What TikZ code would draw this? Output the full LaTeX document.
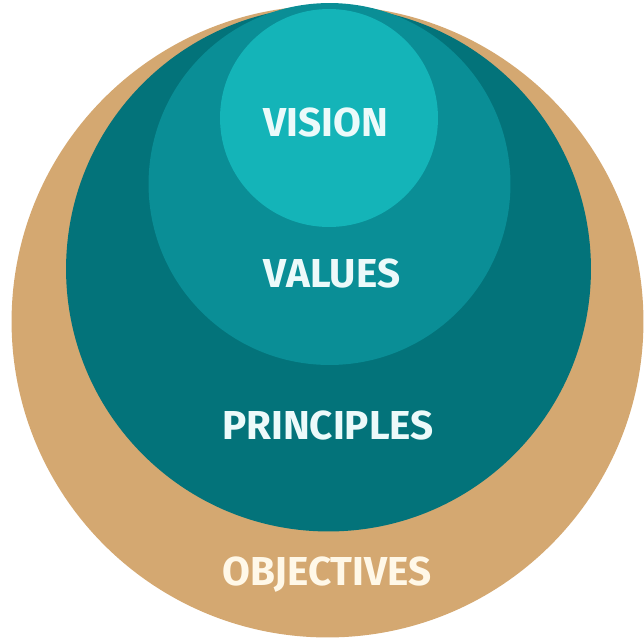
\documentclass[tikz,border=0pt]{standalone}
\usepackage{fontspec}
\setmainfont{Fira Sans}
\usepackage{tikz}

\definecolor{tan}{RGB}{212,168,113}
\definecolor{deepteal}{RGB}{3,115,122}
\definecolor{midteal}{RGB}{10,142,150}
\definecolor{lightteal}{RGB}{20,180,184}
\definecolor{labelwhite}{RGB}{236,250,250}
\definecolor{cream}{RGB}{255,248,232}

\tikzset{
  ring/.style={circle, inner sep=0pt, draw=none},
  word/.style={font=\fontsize{23}{25}\selectfont\bfseries, text=labelwhite}
}

\begin{document}
\begin{tikzpicture}[x=0.02cm,y=-0.02cm]
\useasboundingbox (0,0) rectangle (644,639);
% nested circles, touching at the top
\node[ring, fill=tan, minimum size=12.64cm] (objectives) at (327.5,321.5) {};
\node[ring, fill=deepteal, minimum size=10.5cm] (principles) at (328.5,269) {};
\node[ring, fill=midteal, minimum size=7.24cm] (values) at (329.5,184) {};
\node[ring, fill=lightteal, minimum size=4.36cm] (vision) at (329,118) {};
% labels
\node[word] (visiontext) at (326,122) {VISION};
\node[word] (valuestext) at (332,273) {VALUES};
\node[word] (principlestext) at (328,425) {PRINCIPLES};
\node[word, text=cream] (objectivestext) at (327,575) {OBJECTIVES};
\end{tikzpicture}
\end{document}
